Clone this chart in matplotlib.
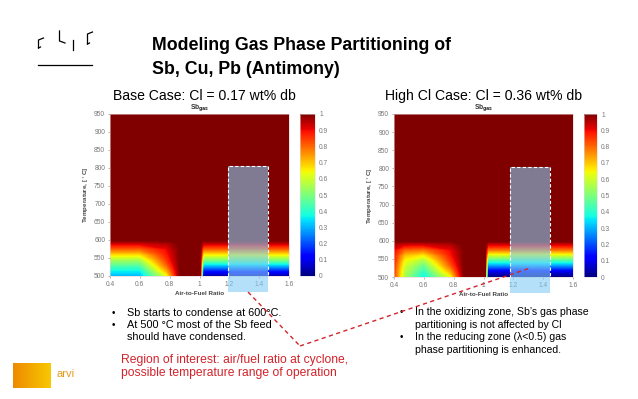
import numpy as np
import matplotlib.pyplot as plt
from matplotlib.patches import Rectangle
from matplotlib.lines import Line2D
from matplotlib.colors import LinearSegmentedColormap

plt.rcParams['font.family'] = ['Liberation Sans', 'DejaVu Sans']

W, H = 638, 399

# Temperature rows (deg C) shared by both maps
temps = [500, 515, 530, 545, 560, 575, 590, 600, 950]

# Base case (Cl = 0.17 wt%): air-to-fuel ratio columns and Sb gas fraction profiles
afr_base = [0.4, 0.6, 0.78, 0.87, 1.005, 1.025, 1.6]
base_reducing = [0.30, 0.36, 0.45, 0.55, 0.67, 0.80, 0.92, 1.0, 1.0]
base_wedge = [0.62, 0.72, 0.80, 0.85, 0.88, 0.90, 0.95, 1.0, 1.0]
base_oxidizing = [0.02, 0.15, 0.32, 0.50, 0.65, 0.80, 0.93, 1.0, 1.0]
all_gas = [1.0, 1.0, 1.0, 1.0, 1.0, 1.0, 1.0, 1.0, 1.0]

# High Cl case (Cl = 0.36 wt%)
afr_high = [0.4, 0.47, 0.6, 0.78, 0.87, 1.01, 1.03, 1.6]
high_edge = [0.83, 0.84, 0.85, 0.87, 0.88, 0.90, 0.95, 1.0, 1.0]
high_mid = [0.55, 0.57, 0.60, 0.64, 0.70, 0.80, 0.92, 1.0, 1.0]
high_reducing = [0.36, 0.40, 0.46, 0.54, 0.65, 0.78, 0.92, 1.0, 1.0]
high_wedge = [0.62, 0.72, 0.80, 0.85, 0.88, 0.90, 0.95, 1.0, 1.0]
high_oxidizing = [0.0, 0.08, 0.25, 0.42, 0.60, 0.78, 0.92, 1.0, 1.0]

sb_base = np.column_stack([base_reducing, base_reducing, base_wedge, all_gas,
                           all_gas, base_oxidizing, base_oxidizing])
sb_high = np.column_stack([high_edge, high_mid, high_reducing, high_wedge,
                           all_gas, all_gas, high_oxidizing, high_oxidizing])

# Region of interest (air/fuel ratio at cyclone, temperature window)
roi_base = (1.19, 1.46)
roi_high = (1.175, 1.445)
roi_top = 805

xticks = [0.4, 0.6, 0.8, 1.0, 1.2, 1.4, 1.6]
xticklabels = ['0.4', '0.6', '0.8', '1', '1.2', '1.4', '1.6']
yticks = [500, 550, 600, 650, 700, 750, 800, 850, 900, 950]
cticks = [0, 0.1, 0.2, 0.3, 0.4, 0.5, 0.6, 0.7, 0.8, 0.9, 1]


def box(x0, y0, x1, y1):
    # pixel box -> figure fraction rect
    return [x0 / W, 1 - y1 / H, (x1 - x0) / W, (y1 - y0) / H]


def fpt(x, y):
    return x / W, 1 - y / H


fig = plt.figure(figsize=(W / 100, H / 100), dpi=100)
fig.patch.set_facecolor('white')


def draw_map(ax_box, cax_box, afr, values, roi):
    ax = fig.add_axes(box(*ax_box))
    cax = fig.add_axes(box(*cax_box))
    ax.contourf(afr, temps, values, levels=np.linspace(0, 1, 129),
                cmap='jet', vmin=0, vmax=1, antialiased=False)
    ax.set_xlim(0.4, 1.6)
    ax.set_ylim(500, 950)
    ax.set_xticks(xticks)
    ax.set_xticklabels(xticklabels)
    ax.set_yticks(yticks)
    ax.tick_params(labelsize=4.8, colors='#777777', length=1.5, width=0.4, pad=2)
    for s in ax.spines.values():
        s.set_color('#e8d0d0')
        s.set_linewidth(0.4)
    ax.set_title('Sb$_{\\mathbf{gas}}$', fontsize=4.8, fontweight='bold', pad=0.3,
                 color='#333333')
    ax.set_xlabel('Air-to-Fuel Ratio', fontsize=4.5, fontweight='bold',
                  color='#444444', labelpad=2)
    ax.set_ylabel('Temperature, [$^\\circ$C]', fontsize=4.5, fontweight='bold',
                  color='#444444', labelpad=2)

    # translucent region of interest, running below the axis
    x0, x1 = roi
    ax.add_patch(Rectangle((x0, 455), x1 - x0, roi_top - 455,
                           facecolor=(0.51, 0.80, 0.97), alpha=0.6,
                           edgecolor='none', clip_on=False, zorder=5))
    ax.plot([x0, x0, x1, x1], [500, roi_top, roi_top, 500], color='white',
            lw=0.8, ls=(0, (3, 2)), zorder=6, clip_on=False)

    sm = plt.cm.ScalarMappable(cmap='jet', norm=plt.Normalize(0, 1))
    cb = fig.colorbar(sm, cax=cax, ticks=cticks)
    cb.ax.set_yticklabels([f'{t:g}' for t in cticks])
    cb.ax.tick_params(labelsize=4.8, colors='#777777', length=0, pad=3)
    cb.outline.set_edgecolor('#dddddd')
    cb.outline.set_linewidth(0.4)
    return ax


draw_map((110, 114, 289, 276), (300, 114, 315, 276), afr_base, sb_base, roi_base)
draw_map((394, 114, 573, 277), (584, 114, 597, 277), afr_high, sb_high, roi_high)

# ---- slide header ----
logo_strokes = [
    ([38.5, 38.5, 43.5], [48, 40, 38]),
    ([38.5, 40.5], [48, 47]),
    ([59.5, 59.5, 65], [31, 41, 43]),
    ([72.7, 72.7], [40, 50]),
    ([87.5, 87.5, 92.5], [44, 34, 32]),
    ([87.5, 89.5], [44, 43]),
    ([38, 92], [65, 65]),
]
for xs, ys in logo_strokes:
    fig.add_artist(Line2D([x / W for x in xs], [1 - y / H for y in ys],
                          color='black', lw=0.9, transform=fig.transFigure))

fig.text(*fpt(152, 45), 'Modeling Gas Phase Partitioning of', fontsize=12.8,
         fontweight='bold', va='center', ha='left')
fig.text(*fpt(152, 70), 'Sb, Cu, Pb (Antimony)', fontsize=12.8,
         fontweight='bold', va='center', ha='left')

fig.text(*fpt(113, 96), 'Base Case: Cl = 0.17 wt% db', fontsize=10.1,
         va='center', ha='left')
fig.text(*fpt(385, 96), 'High Cl Case: Cl = 0.36 wt% db', fontsize=10.1,
         va='center', ha='left')

# ---- bullet notes ----
left_notes = [(313, '•', 'Sb starts to condense at 600°C.'),
              (325, '•', 'At 500 °C most of the Sb feed'),
              (337, '', 'should have condensed.')]
right_notes = [(312, '•', 'In the oxidizing zone, Sb’s gas phase'),
               (325, '', 'partitioning is not affected by Cl'),
               (337, '•', 'In the reducing zone (λ<0.5) gas'),
               (350, '', 'phase partitioning is enhanced.')]
for y, b, t in left_notes:
    if b:
        fig.text(*fpt(112, y), b, fontsize=7, va='center')
    fig.text(*fpt(127, y), t, fontsize=7.8, va='center')
for y, b, t in right_notes:
    if b:
        fig.text(*fpt(400, y), b, fontsize=7, va='center')
    fig.text(*fpt(415, y), t, fontsize=7.6, va='center')

red = '#d3242c'
fig.text(*fpt(121, 360), 'Region of interest: air/fuel ratio at cyclone,',
         fontsize=8.7, color=red, va='center')
fig.text(*fpt(121, 373), 'possible temperature range of operation',
         fontsize=8.7, color=red, va='center')

for (xa, ya), (xb, yb) in [((248, 292), (300, 346)), ((300, 346), (530, 268))]:
    fig.add_artist(Line2D([xa / W, xb / W], [1 - ya / H, 1 - yb / H], color=red,
                          lw=1.0, ls=(0, (3, 2.5)), transform=fig.transFigure,
                          zorder=10))

# ---- arvi logo ----
lax = fig.add_axes(box(13, 363, 51, 388))
grad = np.linspace(0, 1, 64).reshape(1, -1)
lax.imshow(grad, cmap=LinearSegmentedColormap.from_list(
    'arvi', ['#ee8a00', '#f8c800']), aspect='auto')
lax.axis('off')
fig.text(*fpt(57, 374), 'arvi', fontsize=8, color='#e49a1e', va='center')

fig.savefig('out.png', dpi=100)
